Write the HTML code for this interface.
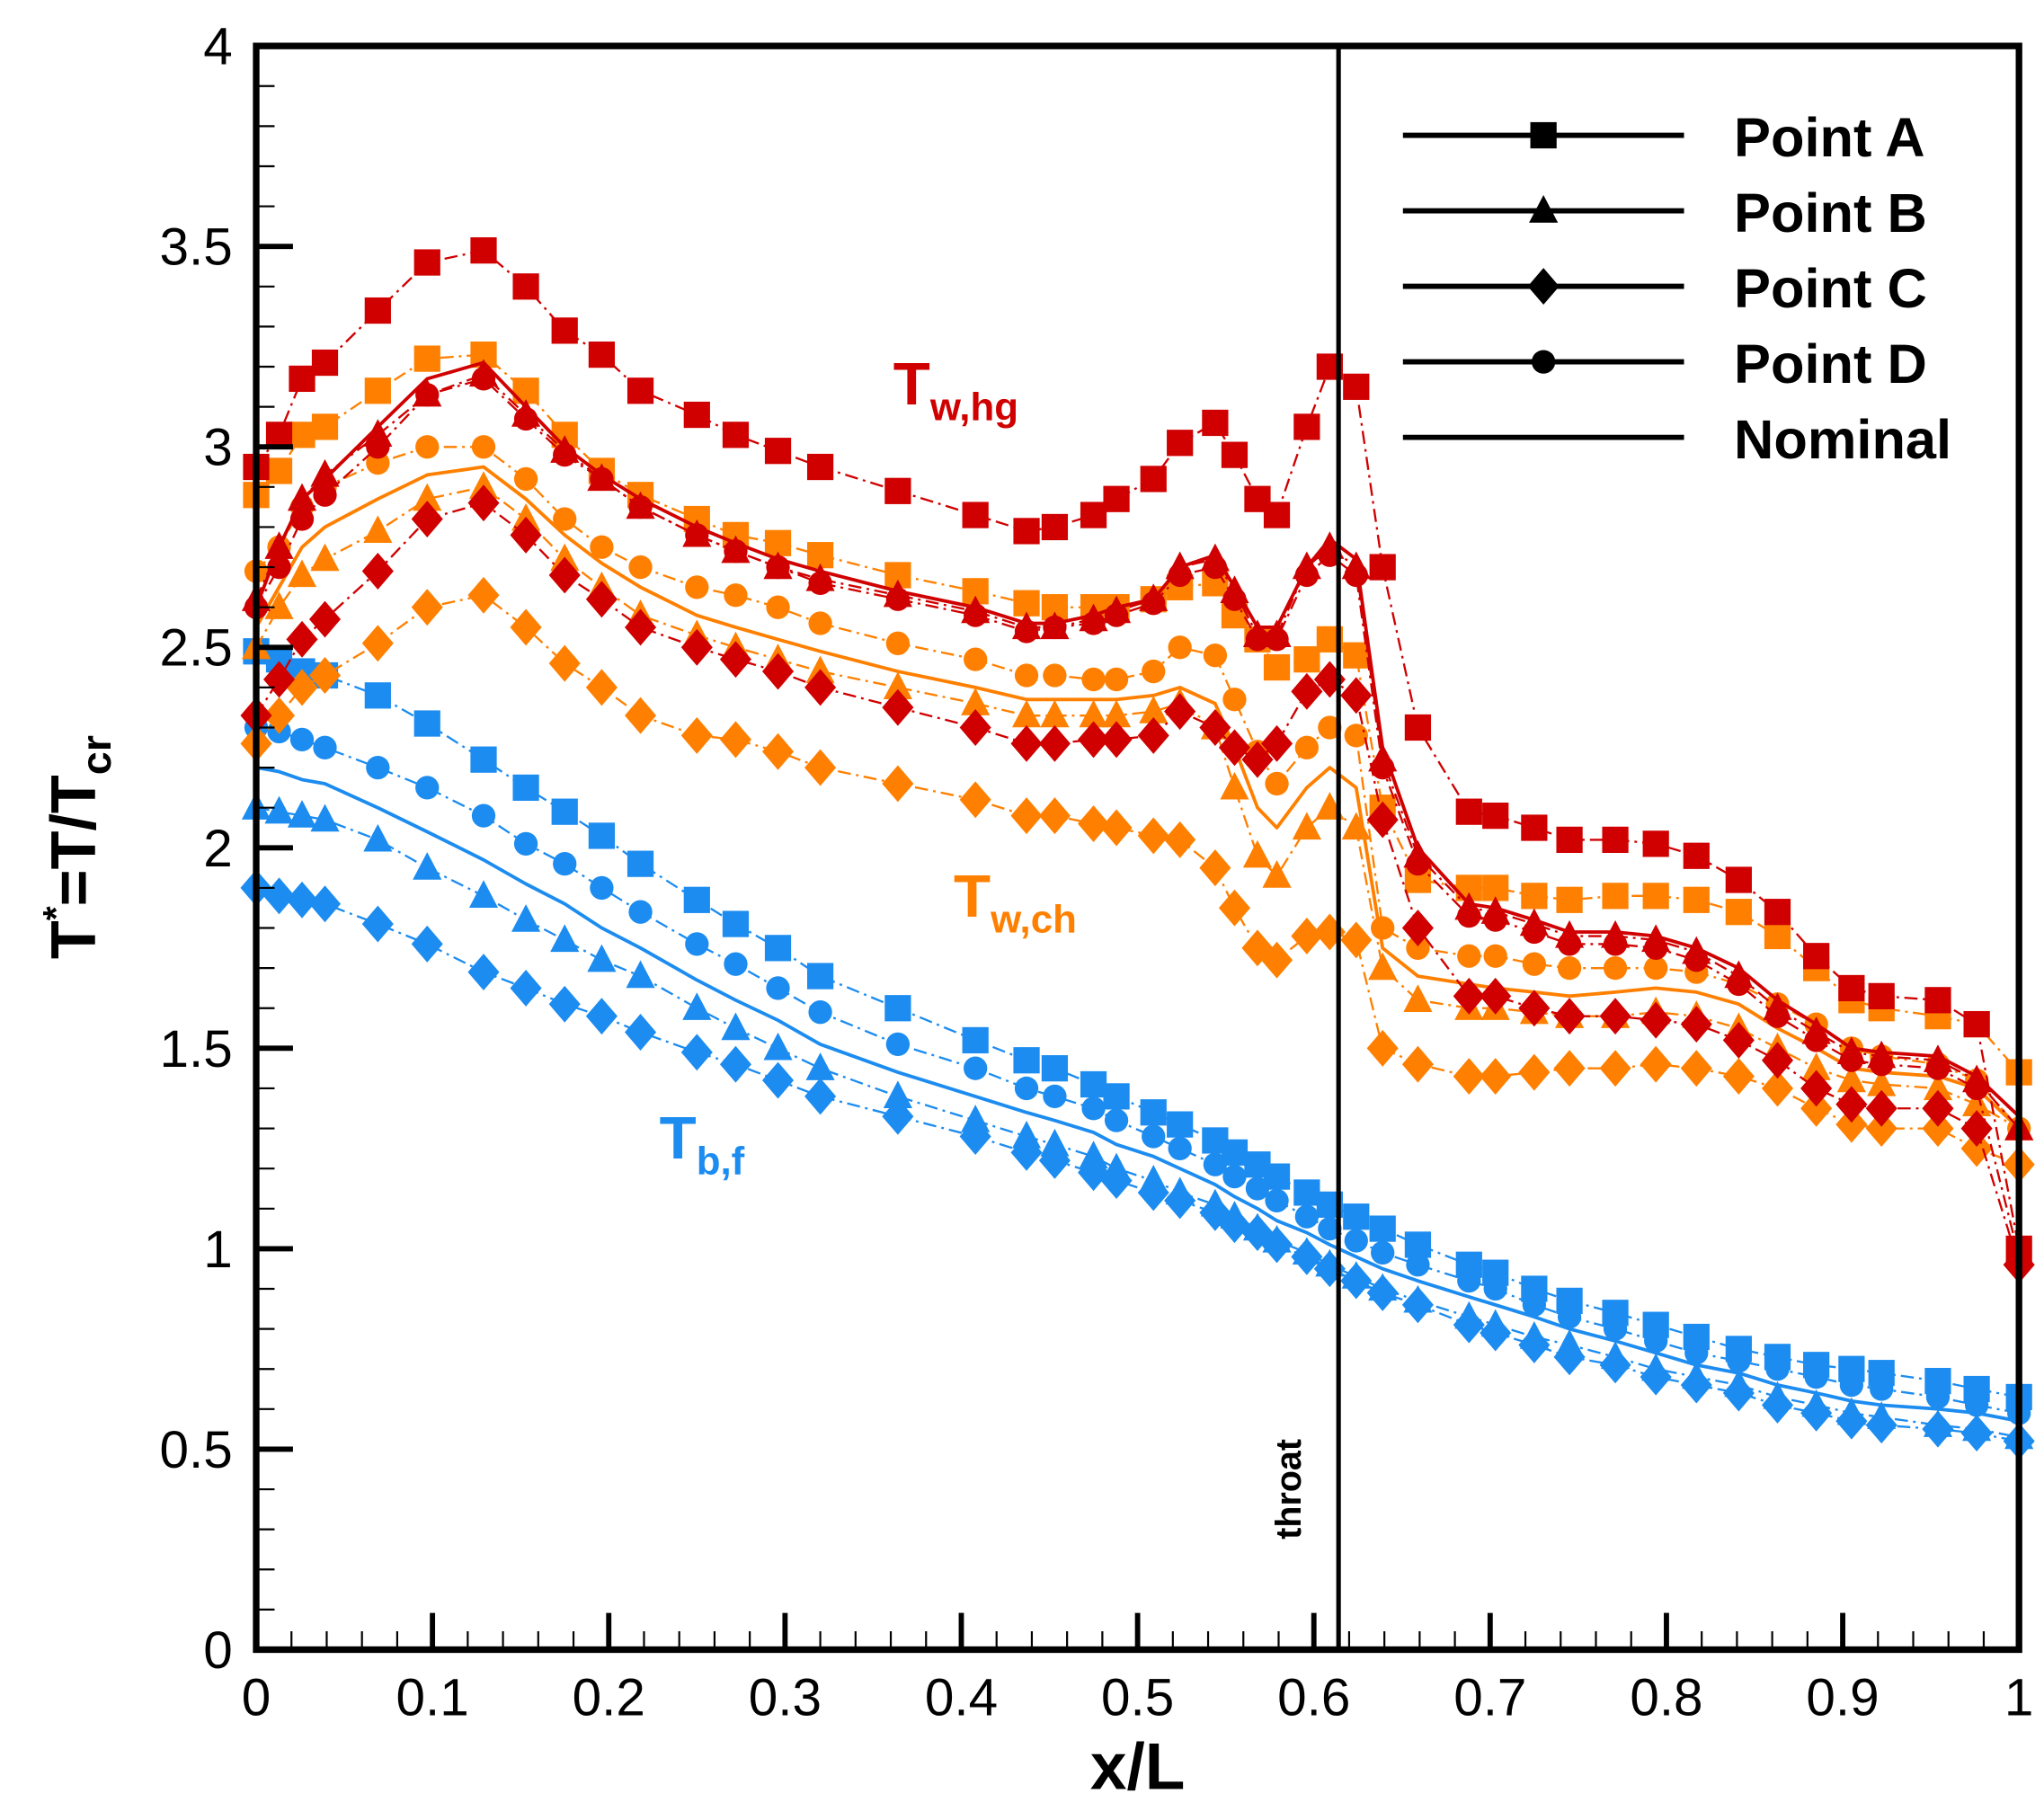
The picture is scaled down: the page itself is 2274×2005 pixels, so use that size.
<!DOCTYPE html>
<html><head><meta charset="utf-8"><style>
html,body{margin:0;padding:0;background:#fff;}
svg{display:block;}
text{font-family:"Liberation Sans",Arial,sans-serif;}
</style></head>
<body>
<svg id="chart" width="2274" height="2005" viewBox="0 0 1556 1372" xmlns="http://www.w3.org/2000/svg">
<rect x="0" y="0" width="1556" height="1372" fill="#fff"/>
<g id="series"></g>
<g id="axes"></g>
<g id="legend"></g>
</svg>
<script>
const xs = [0,.013,.026,.039,.069,.097,.129,.153,.175,.196,.218,.25,.272,.296,.32,.364,.408,.437,.453,.475,.488,.509,.524,.544,.555,.568,.579,.596,.609,.624,.639,.659,.688,.703,.725,.745,.771,.794,.817,.841,.863,.885,.905,.922,.954,.976,1];
const hgA = [2.95,3.03,3.17,3.21,3.34,3.46,3.49,3.40,3.29,3.23,3.14,3.08,3.03,2.99,2.95,2.89,2.83,2.79,2.80,2.83,2.87,2.92,3.01,3.06,2.98,2.87,2.83,3.05,3.20,3.15,2.70,2.30,2.09,2.08,2.05,2.02,2.02,2.01,1.98,1.92,1.84,1.73,1.65,1.63,1.62,1.56,1.00];
const hgNom = [2.60,2.75,2.87,2.92,3.05,3.17,3.21,3.10,3.00,2.93,2.87,2.80,2.76,2.72,2.69,2.64,2.60,2.56,2.56,2.58,2.60,2.62,2.70,2.73,2.65,2.55,2.55,2.70,2.77,2.72,2.25,2.00,1.86,1.85,1.82,1.79,1.79,1.78,1.75,1.70,1.62,1.56,1.50,1.49,1.48,1.43,1.33];
const hgB = [2.62,2.75,2.87,2.93,3.03,3.13,3.18,3.08,2.99,2.92,2.85,2.78,2.74,2.70,2.67,2.63,2.59,2.55,2.55,2.57,2.59,2.62,2.70,2.72,2.64,2.53,2.53,2.70,2.75,2.70,2.22,1.98,1.85,1.84,1.81,1.78,1.78,1.77,1.74,1.68,1.60,1.54,1.49,1.48,1.47,1.42,1.30];
const hgD = [2.60,2.70,2.82,2.88,3.00,3.13,3.17,3.07,2.98,2.92,2.85,2.78,2.74,2.70,2.66,2.62,2.58,2.54,2.55,2.56,2.58,2.61,2.68,2.70,2.62,2.52,2.52,2.68,2.73,2.68,2.20,1.96,1.83,1.82,1.79,1.76,1.76,1.75,1.72,1.66,1.58,1.52,1.47,1.46,1.45,1.40,0.98];
const hgC = [2.33,2.42,2.52,2.57,2.69,2.82,2.86,2.78,2.68,2.62,2.55,2.50,2.47,2.44,2.40,2.35,2.30,2.26,2.26,2.27,2.27,2.28,2.34,2.30,2.25,2.22,2.26,2.39,2.42,2.38,2.07,1.80,1.63,1.63,1.60,1.58,1.58,1.57,1.56,1.52,1.47,1.40,1.36,1.35,1.35,1.30,0.96];
const chA = [2.88,2.94,3.03,3.05,3.14,3.22,3.23,3.14,3.03,2.94,2.88,2.82,2.78,2.76,2.73,2.68,2.64,2.61,2.60,2.60,2.60,2.62,2.65,2.66,2.58,2.52,2.45,2.47,2.52,2.48,2.10,1.92,1.90,1.90,1.88,1.87,1.88,1.88,1.87,1.84,1.78,1.70,1.62,1.60,1.58,1.56,1.44];
const chD = [2.69,2.75,2.85,2.90,2.96,3.00,3.00,2.92,2.82,2.75,2.70,2.65,2.63,2.60,2.56,2.51,2.47,2.43,2.43,2.42,2.42,2.44,2.50,2.48,2.37,2.24,2.16,2.25,2.30,2.28,1.80,1.75,1.73,1.73,1.71,1.70,1.70,1.70,1.69,1.66,1.61,1.56,1.50,1.48,1.46,1.42,1.30];
const chNom = [2.55,2.65,2.75,2.80,2.87,2.93,2.95,2.87,2.78,2.71,2.65,2.58,2.55,2.52,2.49,2.44,2.40,2.37,2.37,2.37,2.37,2.38,2.40,2.36,2.25,2.10,2.05,2.15,2.20,2.15,1.75,1.68,1.66,1.65,1.64,1.63,1.64,1.65,1.64,1.61,1.55,1.50,1.45,1.44,1.43,1.40,1.30];
const chB = [2.50,2.60,2.68,2.72,2.79,2.87,2.90,2.82,2.72,2.65,2.58,2.53,2.50,2.47,2.44,2.40,2.36,2.33,2.33,2.33,2.33,2.34,2.36,2.30,2.15,1.98,1.93,2.05,2.10,2.05,1.70,1.62,1.60,1.60,1.59,1.58,1.58,1.59,1.58,1.55,1.50,1.45,1.42,1.41,1.40,1.36,1.30];
const chC = [2.26,2.33,2.40,2.43,2.51,2.60,2.63,2.55,2.46,2.40,2.33,2.28,2.27,2.24,2.20,2.16,2.12,2.08,2.08,2.06,2.05,2.03,2.02,1.95,1.85,1.75,1.72,1.78,1.79,1.77,1.50,1.46,1.43,1.43,1.44,1.45,1.45,1.46,1.45,1.43,1.40,1.35,1.31,1.30,1.30,1.25,1.21];
const bfA = [2.49,2.47,2.44,2.43,2.38,2.31,2.22,2.15,2.09,2.03,1.96,1.87,1.81,1.75,1.68,1.60,1.52,1.47,1.45,1.41,1.38,1.34,1.31,1.27,1.24,1.21,1.18,1.14,1.11,1.08,1.05,1.01,0.96,0.94,0.90,0.87,0.84,0.81,0.78,0.75,0.73,0.71,0.70,0.69,0.67,0.65,0.63];
const bfD = [2.30,2.29,2.27,2.25,2.20,2.15,2.08,2.01,1.96,1.90,1.84,1.76,1.71,1.65,1.59,1.51,1.45,1.40,1.38,1.35,1.32,1.28,1.25,1.21,1.18,1.15,1.12,1.08,1.05,1.02,0.99,0.96,0.92,0.90,0.86,0.83,0.80,0.77,0.74,0.72,0.70,0.68,0.66,0.65,0.63,0.61,0.59];
const bfNom = [2.20,2.19,2.17,2.16,2.10,2.04,1.97,1.91,1.86,1.80,1.75,1.67,1.62,1.57,1.51,1.44,1.38,1.34,1.32,1.29,1.26,1.23,1.20,1.16,1.13,1.10,1.07,1.04,1.01,0.98,0.95,0.92,0.88,0.86,0.83,0.80,0.77,0.74,0.71,0.69,0.66,0.64,0.62,0.61,0.60,0.59,0.57];
const bfB = [2.10,2.09,2.08,2.07,2.02,1.95,1.88,1.82,1.77,1.72,1.68,1.60,1.55,1.50,1.45,1.38,1.32,1.28,1.26,1.23,1.20,1.17,1.14,1.11,1.08,1.05,1.02,0.99,0.96,0.93,0.90,0.87,0.83,0.81,0.78,0.76,0.73,0.70,0.68,0.66,0.63,0.61,0.59,0.58,0.56,0.55,0.53];
const bfC = [1.90,1.88,1.87,1.86,1.81,1.76,1.69,1.65,1.61,1.58,1.54,1.49,1.46,1.42,1.38,1.33,1.28,1.24,1.22,1.19,1.17,1.14,1.12,1.09,1.06,1.04,1.01,0.98,0.95,0.92,0.89,0.86,0.81,0.79,0.76,0.73,0.71,0.68,0.66,0.64,0.61,0.59,0.57,0.56,0.55,0.54,0.52];
const xTicks = [0,0.1,0.2,0.3,0.4,0.5,0.6,0.7,0.8,0.9,1];
const xTickLabels = ["0","0.1","0.2","0.3","0.4","0.5","0.6","0.7","0.8","0.9","1"];
const yTicks = [0,0.5,1,1.5,2,2.5,3,3.5,4];
const yTickLabels = ["0","0.5","1","1.5","2","2.5","3","3.5","4"];
const throatX = 0.614;
const legendLabels = ["Point A","Point B","Point C","Point D","Nominal"];

const NS="http://www.w3.org/2000/svg";
const L=195,R=1537,T=35,B=1256;
function sx(v){return L+(R-L)*v;}
function sy(v){return B-(B-T)*v/4;}
function mk(tag,attrs,parent){const e=document.createElementNS(NS,tag);for(const k in attrs)e.setAttribute(k,attrs[k]);parent.appendChild(e);return e;}
const RED="#D00000",ORG="#FF8000",BLU="#1C8CF0";
const sLayer=document.getElementById('series');
function marker(shape,x,y,color,parent){
  let e;
  if(shape==='sq'){e=mk('rect',{x:x-10,y:y-10,width:20,height:20,fill:color},parent);}
  else if(shape==='tri'){e=mk('polygon',{points:`${x},${y-12} ${x+11},${y+9} ${x-11},${y+9}`,fill:color},parent);}
  else if(shape==='dia'){e=mk('polygon',{points:`${x},${y-14} ${x+12},${y} ${x},${y+14} ${x-12},${y}`,fill:color},parent);}
  else {e=mk('circle',{cx:x,cy:y,r:9,fill:color},parent);}
  return e;
}
function drawSeries(name,vals,color,shape){
  const g=mk('g',{},sLayer);
  
  
  const pts=vals.map((v,i)=>sx(xs[i]).toFixed(1)+','+sy(v).toFixed(1)).join(' ');
  const line=mk('polyline',{points:pts,fill:'none',stroke:color,'stroke-width':shape?1.6:2.6,'stroke-dasharray':shape?'10,4,2,4':'none','stroke-linejoin':'round'},g);
  
  
  if(shape){vals.forEach((v,i)=>{const m=marker(shape,sx(xs[i]),sy(v),color,g);
    
    });}
}
drawSeries('bf-c',bfC,BLU,'dia');drawSeries('bf-b',bfB,BLU,'tri');drawSeries('bf-nominal',bfNom,BLU,null);drawSeries('bf-d',bfD,BLU,'circ');drawSeries('bf-a',bfA,BLU,'sq');
drawSeries('ch-c',chC,ORG,'dia');drawSeries('ch-b',chB,ORG,'tri');drawSeries('ch-nominal',chNom,ORG,null);drawSeries('ch-d',chD,ORG,'circ');drawSeries('ch-a',chA,ORG,'sq');
drawSeries('hg-c',hgC,RED,'dia');drawSeries('hg-d',hgD,RED,'circ');drawSeries('hg-b',hgB,RED,'tri');drawSeries('hg-nominal',hgNom,RED,null);drawSeries('hg-a',hgA,RED,'sq');

const ax=document.getElementById('axes');
// throat line
const th=mk('line',{x1:sx(throatX),x2:sx(throatX),y1:T,y2:B,stroke:'#000','stroke-width':3.5},ax);


const tht=mk('text',{x:0,y:0,transform:`translate(${sx(throatX)-29},1172) rotate(-90)`,'font-size':27,'font-weight':'bold'},ax);
tht.textContent='throat';


// frame
const fr=mk('rect',{x:L,y:T,width:R-L,height:B-T,fill:'none',stroke:'#000','stroke-width':5},ax);


// minor/major ticks
for(let i=0;i<=50;i++){const v=i*0.02;const maj=i%5===0;
  const t=mk('line',{x1:sx(v),x2:sx(v),y1:B,y2:B-(maj?28:14),stroke:'#000','stroke-width':maj?4:1.5},ax);
  
  }
for(let i=0;i<=40;i++){const v=i*0.1;const maj=i%5===0;
  const t=mk('line',{x1:L,x2:L+(maj?28:14),y1:sy(v),y2:sy(v),stroke:'#000','stroke-width':maj?4:1.5},ax);
  
  }
xTicks.forEach((v,i)=>{const t=mk('text',{x:sx(v),y:B+50,'font-size':40,'text-anchor':'middle'},ax);t.textContent=xTickLabels[i];
  
  });
yTicks.forEach((v,i)=>{const t=mk('text',{x:L-18,y:sy(v)+14,'font-size':40,'text-anchor':'end'},ax);t.textContent=yTickLabels[i];
  
  });
const xt=mk('text',{x:(L+R)/2,y:1362,'font-size':50,'font-weight':'bold','text-anchor':'middle'},ax);xt.textContent='x/L';


const yt=mk('text',{x:0,y:0,transform:'translate(72,645) rotate(-90)','font-size':48,'font-weight':'bold','text-anchor':'middle'},ax);
yt.innerHTML='T<tspan font-size="28" dy="-20">*</tspan><tspan dy="20">=T/T</tspan><tspan font-size="32" dy="12">cr</tspan>';


function ann(x,y,main,sub,color,name){const t=mk('text',{x:x,y:y,'font-size':46,'font-weight':'bold',fill:color},ax);
  t.innerHTML=main+'<tspan font-size="30" dy="12">'+sub+'</tspan>';
  
  }
ann(680,308,'T','w,hg',RED,'tw-hg-label');
ann(726,698,'T','w,ch',ORG,'tw-ch-label');
ann(502,882,'T','b,f',BLU,'tb-f-label');

const lg=document.getElementById('legend');
const shapes=['sq','tri','dia','circ',null];
legendLabels.forEach((lab,i)=>{const y=103+i*57.5;
  const g=mk('g',{},lg);
  
  
  mk('line',{x1:1068,x2:1282,y1:y,y2:y,stroke:'#000','stroke-width':4},g);
  if(shapes[i])marker(shapes[i],1175,y,'#000',g);
  const t=mk('text',{x:1320,y:y+16,'font-size':42,'font-weight':'bold'},g);t.textContent=lab;});
</script>
</body></html>
